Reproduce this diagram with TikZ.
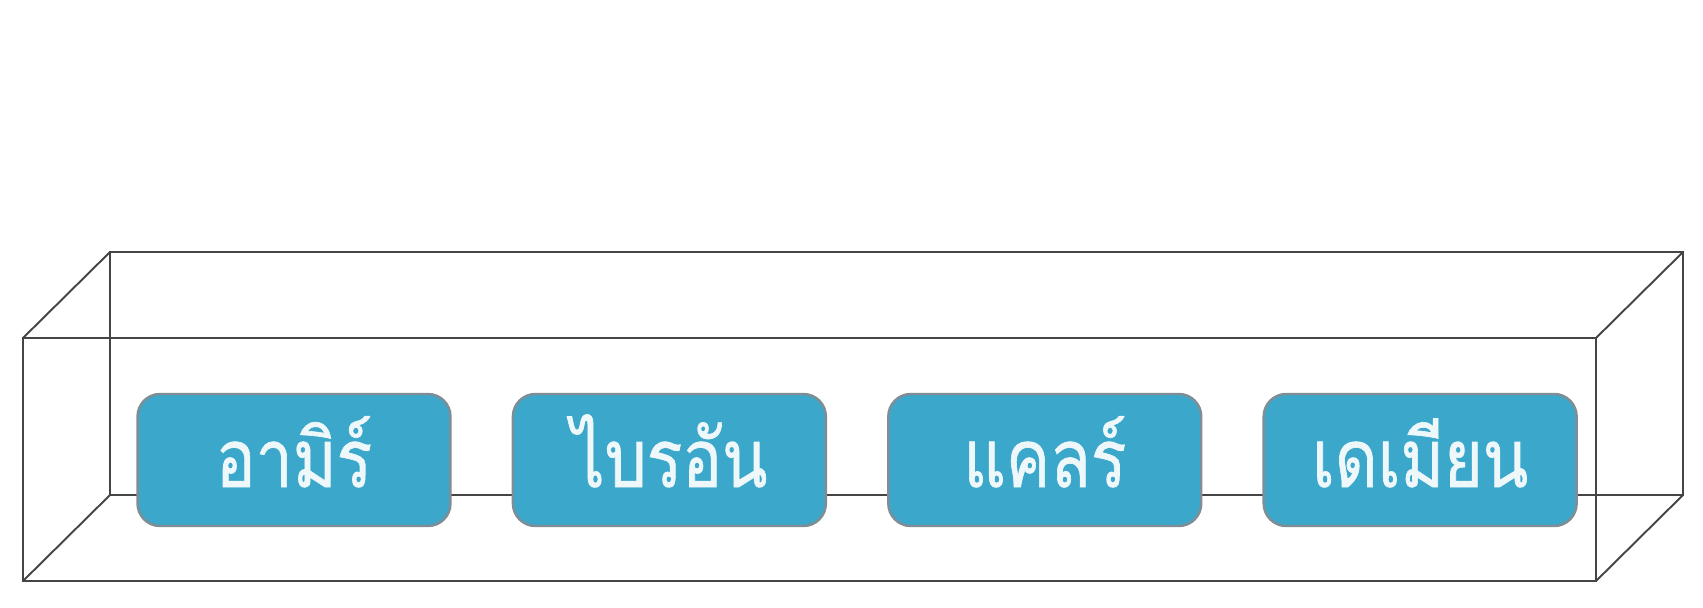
\documentclass[tikz,border=0pt]{standalone}
\usepackage{fontspec}
\newfontfamily\thaifont[Script=Thai, FakeStretch=0.82, FakeBold=0.8]{Loma}
\usetikzlibrary{calc, positioning}
\definecolor{boxblue}{HTML}{3AA7CB}
\definecolor{boxrim}{HTML}{7F8E94}
\definecolor{edgegray}{HTML}{454545}
\definecolor{namewhite}{HTML}{EEF7F9}

\tikzset{
    frame/.style={edgegray, line width=1.1pt, line join=miter},
    namebox/.style={rectangle, rounded corners=0.45cm, fill=boxblue, draw=boxrim, line width=1.4pt,
        minimum width=6.26cm, minimum height=2.64cm, inner sep=0pt,
        text height=1.3cm, text depth=0.22cm,
        text=namewhite, font=\thaifont\fontsize{46}{52}\selectfont}
}

\begin{document}
\begin{tikzpicture}[x=0.02cm, y=-0.02cm]
    \useasboundingbox (0,0) rectangle (1703,608);
    % front face
    \coordinate (FA) at (23,338);
    \coordinate (FB) at (1596,338);
    \coordinate (FC) at (1596,581);
    \coordinate (FD) at (23,581);
    % back face
    \coordinate (BA) at ($(FA)+(87,-86)$);
    \coordinate (BB) at ($(FB)+(87,-86)$);
    \coordinate (BC) at ($(FC)+(87,-86)$);
    \coordinate (BD) at ($(FD)+(87,-86)$);
    \draw[frame] (BA) -- (BB) -- (BC) -- (BD) -- cycle;
    \draw[frame] (FA) -- (BA) (FB) -- (BB) (FC) -- (BC) (FD) -- (BD);
    \draw[frame] (FA) -- (FB) -- (FC) -- (FD) -- cycle;
    % names
    \node[namebox] (amir) at (294,460) {อามิร์};
    \node[namebox, right=1.2cm of amir] (brian) {ไบรอัน};
    \node[namebox, right=1.2cm of brian] (claire) {แคลร์};
    \node[namebox, right=1.2cm of claire] (damian) {เดเมียน};
\end{tikzpicture}
\end{document}
